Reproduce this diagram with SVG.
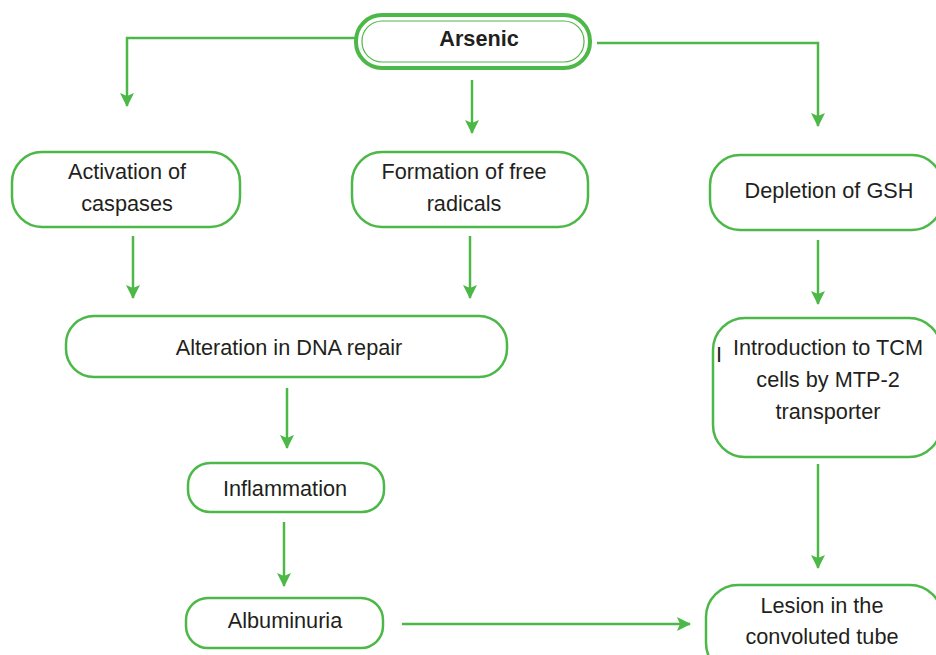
<svg xmlns="http://www.w3.org/2000/svg" width="936" height="655" viewBox="0 0 936 655">
<defs>
<marker id="ah" markerUnits="userSpaceOnUse" markerWidth="14" markerHeight="14" refX="13" refY="7" orient="auto">
<path d="M0,0 L14,7 L0,14 L3,7 Z" fill="#4cb847"/>
</marker>
<style>
.box{fill:#fff;stroke:#4cb847;stroke-width:2.5}
.t{font-family:"Liberation Sans",Arial,sans-serif;font-size:21.7px;fill:#231f20;text-anchor:middle}
.c{fill:none;stroke:#4cb847;stroke-width:2.5}
</style>
</defs>
<rect width="936" height="655" fill="#fff"/>
<g id="connectors">
<path class="c" d="M356,38 H127 V106" marker-end="url(#ah)"/>
<path class="c" d="M472,80 V133" marker-end="url(#ah)"/>
<path class="c" d="M597,43 H818 V126" marker-end="url(#ah)"/>
<path class="c" d="M133,236 V298" marker-end="url(#ah)"/>
<path class="c" d="M470,236 V298" marker-end="url(#ah)"/>
<path class="c" d="M287,388 V448" marker-end="url(#ah)"/>
<path class="c" d="M284,522 V586" marker-end="url(#ah)"/>
<path class="c" d="M402,624 H690" marker-end="url(#ah)"/>
<path class="c" d="M818,240 V304" marker-end="url(#ah)"/>
<path class="c" d="M818,464 V568" marker-end="url(#ah)"/>
</g>
<g id="arsenic">
<rect x="356" y="15" width="234" height="53" rx="26" fill="#fff" stroke="#4cb847" stroke-width="4"/>
<rect x="362" y="21" width="222" height="41" rx="20" fill="none" stroke="#4cb847" stroke-width="1.2"/>
<text class="t" x="479" y="46" font-weight="bold">Arsenic</text>
</g>
<g id="caspases">
<rect class="box" x="12" y="152" width="228" height="75" rx="30"/>
<text class="t" x="127" y="179">Activation of</text>
<text class="t" x="127" y="211">caspases</text>
</g>
<g id="radicals">
<rect class="box" x="352" y="152" width="236" height="75" rx="30"/>
<text class="t" x="464" y="179">Formation of free</text>
<text class="t" x="464" y="211">radicals</text>
</g>
<g id="gsh">
<rect class="box" x="710" y="155" width="232" height="75" rx="30"/>
<text class="t" x="829" y="198">Depletion of GSH</text>
</g>
<g id="dna">
<rect class="box" x="66" y="316" width="441" height="61" rx="28"/>
<text class="t" x="289" y="355">Alteration in DNA repair</text>
</g>
<g id="tcm">
<rect class="box" x="713" y="318" width="228" height="139" rx="32"/>
<text class="t" x="719" y="362" font-size="13">I</text>
<text class="t" x="828" y="355">Introduction to TCM</text>
<text class="t" x="828" y="387">cells by MTP-2</text>
<text class="t" x="828" y="419">transporter</text>
</g>
<g id="inflammation">
<rect class="box" x="188" y="463" width="196" height="49" rx="22"/>
<text class="t" x="285" y="496">Inflammation</text>
</g>
<g id="albuminuria">
<rect class="box" x="186" y="598" width="197" height="50" rx="22"/>
<text class="t" x="285" y="628">Albuminuria</text>
</g>
<g id="lesion">
<rect class="box" x="706" y="585" width="236" height="90" rx="32"/>
<text class="t" x="822" y="613">Lesion in the</text>
<text class="t" x="822" y="644">convoluted tube</text>
</g>
</svg>
